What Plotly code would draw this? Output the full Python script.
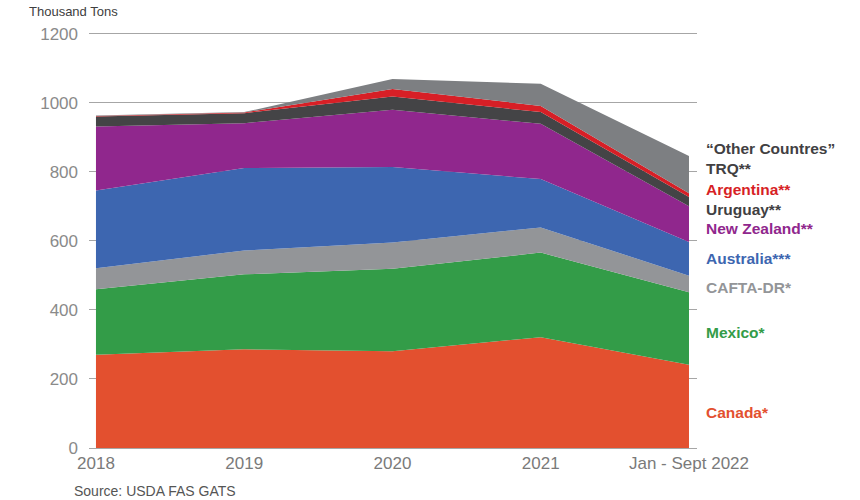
import plotly.graph_objects as go

periods = ["2018", "2019", "2020", "2021", "Jan - Sept 2022"]
x_pos = [0, 1, 2, 3, 4]

canada = [270, 286, 280, 321, 241]
mexico = [190, 217, 239, 245, 210]
cafta = [61, 69, 76, 73, 48]
australia = [225, 239, 219, 140, 98]
new_zealand = [185, 130, 166, 160, 103]
uruguay = [29, 29, 38, 34, 27]
argentina = [2, 2, 22, 18, 11]
other_trq = [1, 1, 29, 64, 108]

series = [
    ("Canada*", canada, "#E3502F"),
    ("Mexico*", mexico, "#339C48"),
    ("CAFTA-DR*", cafta, "#939598"),
    ("Australia***", australia, "#3D66B0"),
    ("New Zealand**", new_zealand, "#90278D"),
    ("Uruguay**", uruguay, "#444446"),
    ("Argentina**", argentina, "#D71F26"),
    ("Other Countries TRQ**", other_trq, "#7D7F82"),
]

fig = go.Figure()
for name, vals, col in series:
    fig.add_trace(go.Scatter(
        x=x_pos, y=vals, name=name, mode="lines",
        stackgroup="one", line=dict(width=0, color=col),
        fillcolor=col, hoverinfo="x+y+name",
    ))

# right-side labels: (text, color, y in data units)
labels = [
    ("\u201cOther Countres\u201d", "#414042", 869),
    ("TRQ**", "#414042", 811),
    ("Argentina**", "#D71F26", 748),
    ("Uruguay**", "#414042", 692),
    ("New Zealand**", "#90278D", 635),
    ("Australia***", "#3D66B0", 548),
    ("CAFTA-DR*", "#939598", 466),
    ("Mexico*", "#339C48", 335),
    ("Canada*", "#E3502F", 103),
]
for txt, col, yv in labels:
    fig.add_annotation(
        x=4, y=yv, xref="x", yref="y", text=f"<b>{txt}</b>",
        showarrow=False, xanchor="left", yanchor="middle", xshift=15,
        font=dict(family="Liberation Sans, Arial, sans-serif", size=15.5, color=col),
    )

fig.add_annotation(
    x=(27 - 89) / 608, y=1 + (32 - 12) / 416, xref="paper", yref="paper",
    text="Thousand Tons", showarrow=False, xanchor="left", yanchor="middle",
    font=dict(family="Liberation Sans, Arial, sans-serif", size=13, color="#404040"),
)
fig.add_annotation(
    x=(72 - 89) / 608, y=-(491 - 448) / 416, xref="paper", yref="paper",
    text="Source: USDA FAS GATS", showarrow=False, xanchor="left", yanchor="middle",
    font=dict(family="Liberation Sans, Arial, sans-serif", size=14, color="#555555"),
)

fig.update_layout(
    width=860, height=500,
    margin=dict(l=89, r=163, t=32, b=52),
    paper_bgcolor="white", plot_bgcolor="white",
    showlegend=False,
    font=dict(family="Liberation Sans, Arial, sans-serif", color="#808080"),
    xaxis=dict(
        range=[-0.047, 4.054], tickvals=x_pos, ticktext=periods,
        showgrid=False, zeroline=False, showline=True, linecolor="#a6a6a6",
        linewidth=1, ticks="", tickfont=dict(size=17, color="#7a7a7a"),
    ),
    yaxis=dict(
        range=[0, 1205], tickvals=[0, 200, 400, 600, 800, 1000, 1200],
        showgrid=True, gridcolor="#a6a6a6", gridwidth=1, zeroline=False,
        showline=False, ticks="", ticklabelstandoff=10,
        tickfont=dict(size=17, color="#8a8a8a"),
    ),
)

fig.write_html("out.html")
